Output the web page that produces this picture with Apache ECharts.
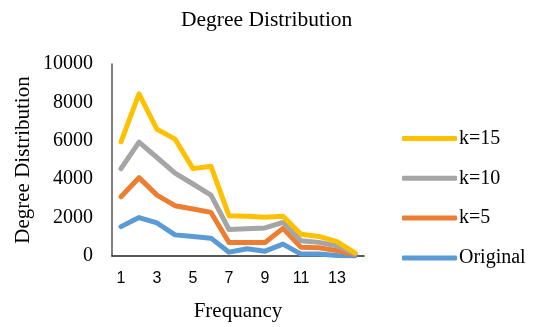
<!DOCTYPE html>
<html>
<head>
<meta charset="utf-8">
<script src="https://cdn.jsdelivr.net/npm/echarts@6/dist/echarts.min.js"></script>
<style>
html,body{margin:0;padding:0;background:#fff;}
#chart{width:542px;height:327px;}
</style>
</head>
<body>
<div id="chart"></div>
<script>
var categories = ['1','2','3','4','5','6','7','8','9','10','11','12','13','14'];
var original = [1530, 2000, 1720, 1100, 1020, 930, 200, 380, 250, 620, 100, 100, 30, 0];
var k5 = [3090, 4080, 3170, 2620, 2450, 2270, 700, 700, 700, 1440, 450, 430, 280, 80];
var k10 = [4550, 5930, 5130, 4320, 3750, 3170, 1380, 1420, 1460, 1750, 800, 710, 530, 120];
var k15 = [5950, 8450, 6600, 6090, 4550, 4670, 2100, 2070, 2020, 2070, 1130, 1020, 750, 160];
var yTicks = [0, 2000, 4000, 6000, 8000, 10000];

var serif = '"Liberation Serif","Times New Roman",serif';
function line(name, data, color) {
  return {
    name: name, type: 'line', data: data, symbol: 'none', smooth: false,
    lineStyle: {color: color, width: 5, cap: 'round', join: 'round'},
    itemStyle: {color: color}
  };
}
var chart = echarts.init(document.getElementById('chart'), null, {renderer: 'canvas'});
chart.setOption({
  animation: false,
  backgroundColor: '#fff',
  title: {
    text: 'Degree Distribution', left: 176, top: 4,
    textStyle: {fontFamily: serif, fontSize: 21.5, fontWeight: 'normal', color: '#000'}
  },
  legend: {
    orient: 'vertical', left: 397, top: 123,
    data: ['k=15', 'k=10', 'k=5', 'Original'],
    icon: 'roundRect', itemWidth: 55, itemHeight: 5, itemGap: 18.8,
    textStyle: {fontFamily: serif, fontSize: 20, color: '#000', lineHeight: 21, padding: [0,0,0,-3]}
  },
  grid: {left: 112, right: 178, top: 64, bottom: 70, containLabel: false},
  xAxis: {
    type: 'category', data: categories, boundaryGap: true,
    name: 'Frequancy', nameLocation: 'middle', nameGap: 45,
    nameTextStyle: {fontFamily: serif, fontSize: 21, color: '#000'},
    axisLine: {lineStyle: {color: '#222', width: 1.5}},
    axisTick: {show: false},
    axisLabel: {interval: 1, margin: 15, fontFamily: '"Liberation Sans",Arial,sans-serif', fontSize: 16, color: '#000'}
  },
  yAxis: {
    type: 'value', min: yTicks[0], max: yTicks[yTicks.length-1], interval: 2000,
    name: 'Degree Distribution', nameLocation: 'middle', nameGap: 78,
    nameTextStyle: {fontFamily: serif, fontSize: 21, color: '#000'},
    axisLine: {show: true, lineStyle: {color: '#555', width: 1.5}},
    axisTick: {show: false},
    splitLine: {show: false},
    axisLabel: {margin: 19, fontFamily: serif, fontSize: 20, color: '#000',
      padding: [3, 0, 0, 0],
      formatter: function (v) { return String(v); }}
  },
  series: [
    line('Original', original, '#5B9BD5'),
    line('k=5', k5, '#ED7D31'),
    line('k=10', k10, '#A5A5A5'),
    line('k=15', k15, '#FFC000')
  ]
});
</script>
</body>
</html>
